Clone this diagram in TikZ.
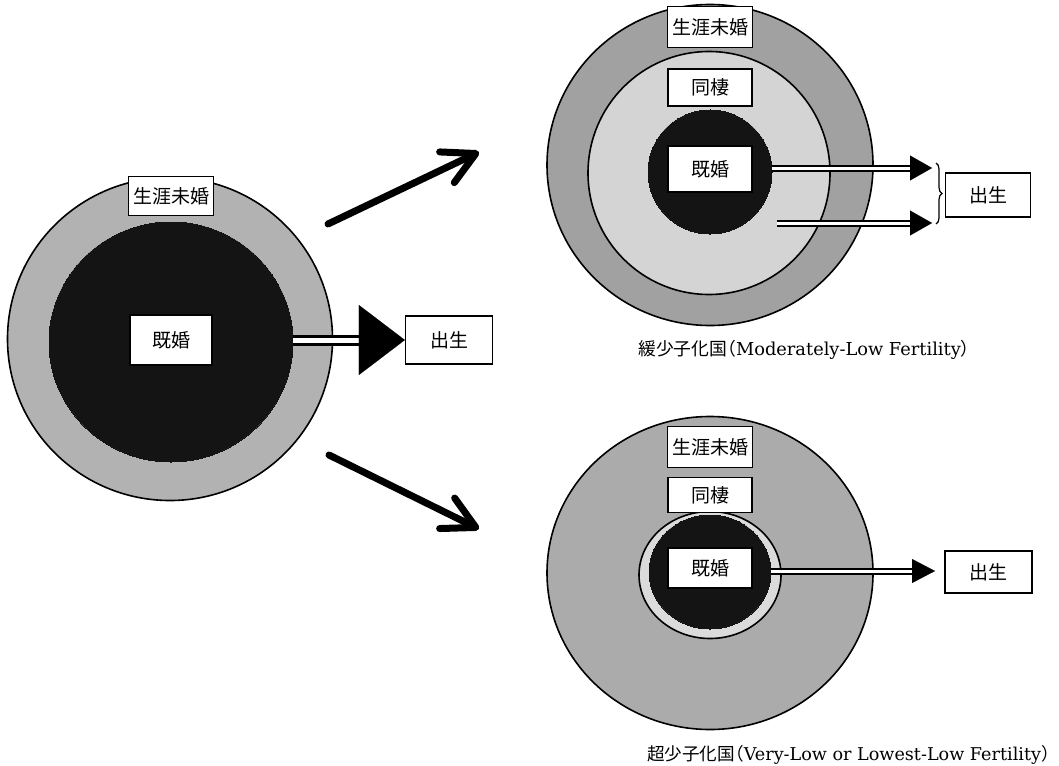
\documentclass[tikz,border=0pt]{standalone}
\usepackage{fontspec}
\setmainfont{DejaVu Serif}
\newfontfamily\cjk{Noto Sans CJK JP}
\newfontfamily\cjkh[RawFeature=+halt]{Noto Sans CJK JP}
\usetikzlibrary{arrows.meta,decorations.pathreplacing,shapes.geometric}
\definecolor{ringL}{gray}{0.70}
\definecolor{ringTR}{gray}{0.63}
\definecolor{midTR}{gray}{0.83}
\definecolor{ringBR}{gray}{0.67}
\definecolor{thinBR}{gray}{0.86}
\definecolor{core}{gray}{0.08}
\begin{document}
\begin{tikzpicture}[x=1pt,y=-1pt,
  lab/.style={draw, fill=white, line width=1.3pt, font=\cjk\fontsize{19}{19}\selectfont, inner sep=0pt},
  disc/.style={ellipse, draw, line width=1.6pt, inner sep=0pt},
  shaft/.style={draw=black, double=white, line width=2pt, double distance=3pt},
  bigshaft/.style={draw=black, double=white, line width=3pt, double distance=5pt},
  tiphead/.style={line width=0.1pt},
  diag/.style={line width=7pt, line cap=round, -{Straight Barb[length=32pt,width=34pt,round]}},
  captext/.style={font=\fontsize{#1}{#1}\selectfont, inner sep=0pt}
]
\useasboundingbox (0,0) rectangle (1059,765);
\fill[white] (0,0) rectangle (1059,765);

% ---------- left diagram ----------
\node[disc, fill=ringL, minimum width=325pt, minimum height=323pt] (outerL) at (170,339) {};
\node[disc, draw=core, fill=core, line width=0pt, minimum width=244pt, minimum height=240pt] (darkL) at (171,342) {};
\node[lab, minimum width=82pt, minimum height=50pt] (kikonL) at (171,340) {既婚};
\node[lab, minimum width=85pt, minimum height=39pt] (shogaiL) at (171,196) {生涯未婚};
\node[lab, minimum width=87pt, minimum height=48pt] (birthL) at (449,340) {出生};
\path (birthL.west) ++(-46,0) coordinate (hL);
\draw[bigshaft] (darkL.east |- kikonL.east) -- (hL);
\draw[tiphead, -{Triangle[length=46pt,width=70pt]}] (hL) -- (birthL.west);

% diagonal arrows
\coordinate (dU1) at (328,224);
\coordinate (dU2) at (479,152);
\coordinate (dD1) at (329,455);
\coordinate (dD2) at (479,529);
\draw[diag] (dU1) -- (dU2);
\draw[diag] (dD1) -- (dD2);

% ---------- top-right diagram ----------
\node[disc, fill=ringTR, minimum width=326pt, minimum height=321pt] (outerTR) at (710,165) {};
\node[disc, fill=midTR, minimum width=242pt, minimum height=243pt] (midTRn) at (709,173) {};
\node[disc, draw=core, fill=core, line width=0pt, minimum width=124pt, minimum height=124pt] (darkTR) at (710,172) {};
\node[lab, minimum width=85pt, minimum height=41pt] (shogaiTR) at (710,27) {生涯未婚};
\node[lab, minimum width=84pt, minimum height=37pt] (douseiTR) at (710,87.5) {同棲};
\node[lab, minimum width=84pt, minimum height=46pt] (kikonTR) at (710,169) {既婚};
\node[lab, minimum width=85pt, minimum height=44pt] (birthTR) at (988,195) {出生};
\coordinate (t1) at (932,168);
\coordinate (h1) at (910,168);
\coordinate (s2) at (777,223);
\coordinate (t2) at (932,223);
\coordinate (h2) at (910,223);
\draw[shaft] (darkTR.east |- t1) -- (h1);
\draw[tiphead, -{Triangle[length=22pt,width=25pt]}] (h1) -- (t1);
\draw[shaft] (s2) -- (h2);
\draw[tiphead, -{Triangle[length=22pt,width=25pt]}] (h2) -- (t2);
\draw[line width=1.2pt, decorate, decoration={brace, amplitude=6pt}] (936,163) -- (936,224);
\node[captext=17.8, anchor=west] (capTR) at (638,350) {{\cjk 緩少子化国}{\cjkh （}Moderately-Low Fertility{\cjkh ）}};

% ---------- bottom-right diagram ----------
\node[disc, fill=ringBR, minimum width=326pt, minimum height=313pt] (outerBR) at (710,573) {};
\node[disc, fill=thinBR, minimum width=142pt, minimum height=127pt] (thinBRn) at (710,575) {};
\node[disc, draw=core, fill=core, line width=0pt, minimum width=122pt, minimum height=114pt] (darkBR) at (710,572) {};
\node[lab, minimum width=85pt, minimum height=41pt] (shogaiBR) at (710,447) {生涯未婚};
\node[lab, minimum width=84pt, minimum height=35pt] (douseiBR) at (710,495) {同棲};
\node[lab, minimum width=84pt, minimum height=40pt] (kikonBR) at (710,568) {既婚};
\node[lab, minimum width=87pt, minimum height=42pt] (birthBR) at (988.5,572) {出生};
\coordinate (t3) at (935,571);
\coordinate (h3) at (912,571);
\draw[shaft] (darkBR.east |- t3) -- (h3);
\draw[tiphead, -{Triangle[length=23pt,width=24pt]}] (h3) -- (t3);
\node[captext=17.6, anchor=east] (capBR) at (1050,755) {{\cjk 超少子化国}{\cjkh （}Very-Low or Lowest-Low Fertility{\cjkh ）}};
\end{tikzpicture}
\end{document}
